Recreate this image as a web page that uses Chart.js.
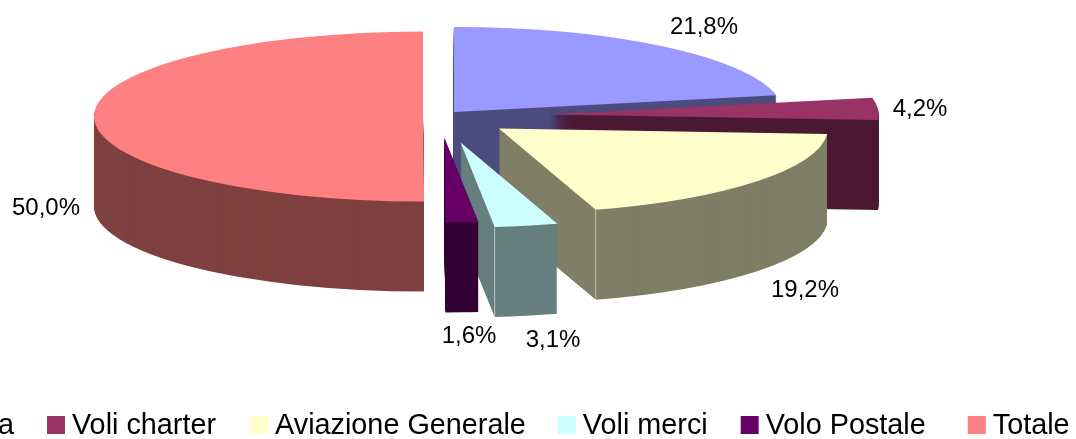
<!DOCTYPE html>
<html><head><meta charset="utf-8">
<style>html,body{margin:0;padding:0;background:#fff;overflow:hidden}canvas{display:block}</style>
<script src="https://cdn.jsdelivr.net/npm/chart.js@4/dist/chart.umd.min.js"></script>
</head><body><canvas id="c" width="1076" height="439"></canvas>
<script>
const categories = ["Voli di linea","Voli charter","Aviazione Generale","Voli merci","Volo Postale","Totale"];
const shares = [21.8,4.2,19.2,3.1,1.6,50.0];
const shareLabels = ["21,8%","4,2%","19,2%","3,1%","1,6%","50,0%"];
const explode = [22,110,75,103,81,17];
const topColors = ["#9999FF","#993366","#FFFFCC","#CCFFFF","#660066","#FF8080"];
const sideColors = ["#4C4C7F","#4C1933","#7F7F66","#667F7F","#330033","#7F4040"];

const CX=440, CY=116.5, RX=329, RY=85, DEPTH=90;
const labelAt = [[704,27],[920,109],[805,290],[553,340],[469,336],[46,208]];
const seams = [2,3];
const legendGaps = [33,34,32,33,42];

const pie3d = {
  id:'pie3d',
  beforeDatasetsDraw(chart){
    const ctx=chart.ctx, arcs=chart.getDatasetMeta(0).data;
    arcs.forEach((arc,i)=>{
      const o=arc.options, R=arc.outerRadius, sx=RX/R, sy=RY/R;
      const mid=(arc.startAngle+arc.endAngle)/2;
      const ox=CX+Math.cos(mid)*explode[i], oy=CY+Math.sin(mid)*explode[i]*RY/RX;
      const put=(d,color)=>{
        ctx.save();
        ctx.translate(ox,oy+d); ctx.scale(sx,sy); ctx.translate(-arc.x,-arc.y);
        arc.options=Object.assign({},o,{backgroundColor:color,borderWidth:0});
        arc.draw(ctx); arc.options=o;
        ctx.restore();
      };
      for(let d=DEPTH;d>0;d--) put(d,sideColors[i]);
      put(0,topColors[i]);
      if(seams.includes(i)){
        const px=ox+RX*Math.cos(arc.endAngle), py=oy+RY*Math.sin(arc.endAngle);
        ctx.save();ctx.strokeStyle='rgba(255,255,255,0.55)';ctx.lineWidth=1;
        ctx.beginPath();ctx.moveTo(px,py);ctx.lineTo(px,py+DEPTH);ctx.stroke();ctx.restore();
      }
    });
    return false;
  },
  afterDraw(chart){
    const ctx=chart.ctx;
    ctx.save();
    ctx.fillStyle='#000';ctx.textBaseline='middle';ctx.textAlign='center';
    ctx.font='24px "Liberation Sans", Arial, sans-serif';
    shareLabels.forEach((t,i)=>ctx.fillText(t,labelAt[i][0],labelAt[i][1]));
    // legend, running off the left edge as in the original
    ctx.font='28.8px "Liberation Sans", Arial, sans-serif';
    ctx.textAlign='left';
    const boxGap=7, box=18;
    let x=72-boxGap-box-legendGaps[0]-ctx.measureText(categories[0]).width;
    categories.forEach((t,i)=>{
      ctx.fillStyle=topColors[i];ctx.fillRect(x-boxGap-box,416,box,18);
      ctx.fillStyle='#000';ctx.fillText(t,x,426);
      x+=ctx.measureText(t).width+(legendGaps[i]||0)+box+boxGap;
    });
    ctx.restore();
  }
};
new Chart(document.getElementById('c'),{
  type:'pie',
  data:{labels:categories,datasets:[{data:shares,backgroundColor:topColors,borderWidth:0}]},
  options:{responsive:false,animation:false,events:[],layout:{padding:0},
    plugins:{legend:{display:false},tooltip:{enabled:false},title:{display:false}}},
  plugins:[pie3d]
});
</script></body></html>
